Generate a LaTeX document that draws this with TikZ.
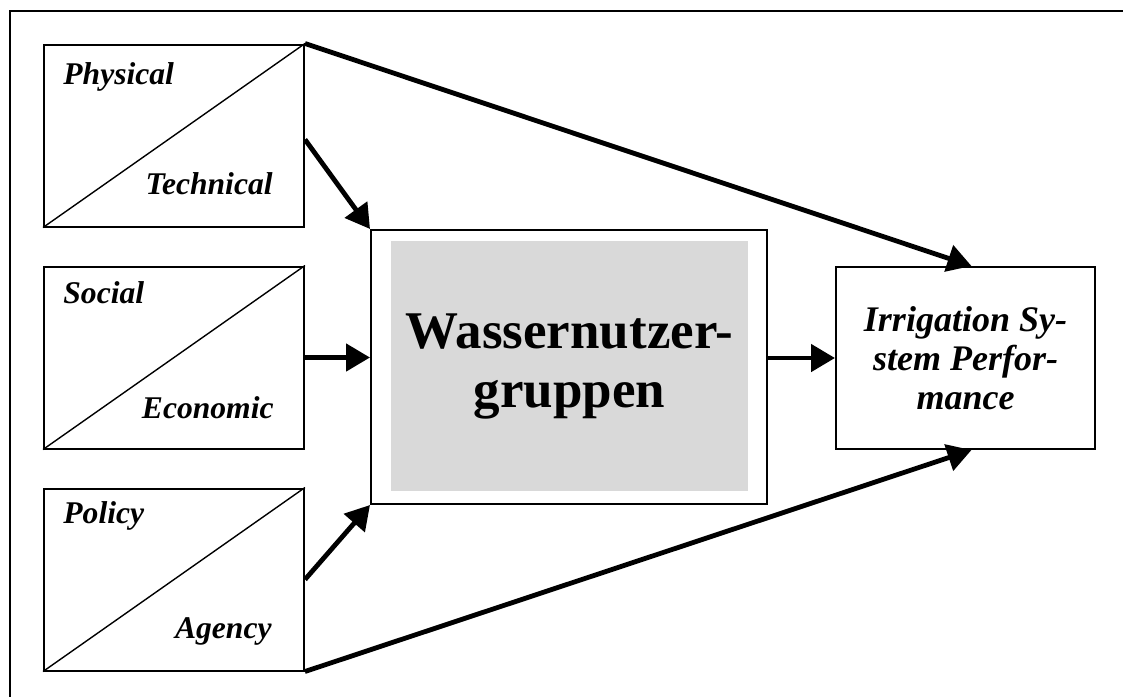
\documentclass[tikz,border=0pt]{standalone}
\usepackage{fontspec}
\setmainfont{Liberation Serif}
\usepackage{tikz}
\usetikzlibrary{arrows.meta, positioning}

\begin{document}
\begin{tikzpicture}[
  x=0.5pt, y=-0.5pt,
  fbox/.style={draw, line width=1pt, minimum width=130pt,
               minimum height=91pt, inner sep=0pt},
  lbl/.style={font=\fontsize{15.8}{19}\selectfont\bfseries\itshape,
              inner sep=0pt},
  diag/.style={line width=0.7pt},
  arr/.style={-{Triangle[length=12pt, width=13.5pt]}, line width=2.4pt},
  node distance=19pt
]
  \useasboundingbox (0,0) rectangle (1123,697);

  % - Rahmen -
  \draw[line width=1pt] (1123,11) -- (10,11) -- (10,697);

  % - Faktoren links -
  \node[fbox] (phys) at (174,135.5) {};
  \node[fbox, below=of phys] (soc) {};
  \node[fbox, below=of soc]  (pol) {};

  \draw[diag] (phys.south west) -- (phys.north east);
  \draw[diag] (soc.south west)  -- (soc.north east);
  \draw[diag] (pol.south west)  -- (pol.north east);

  \node[lbl, anchor=base west] (physA) at ([xshift=10pt, yshift=-20.5pt]phys.north west) {Physical};
  \node[lbl, anchor=base east] (physB) at ([xshift=-16pt, yshift=16.5pt]phys.south east) {Technical};
  \node[lbl, anchor=base west] (socA)  at ([xshift=10pt, yshift=-19pt]soc.north west) {Social};
  \node[lbl, anchor=base east] (socB)  at ([xshift=-15.5pt, yshift=15.5pt]soc.south east) {Economic};
  \node[lbl, anchor=base west] (polA)  at ([xshift=10pt, yshift=-18pt]pol.north west) {Policy};
  \node[lbl, anchor=base east] (polB)  at ([xshift=-16.5pt, yshift=16.5pt]pol.south east) {Agency};

  % - Wassernutzergruppen -
  \node[draw, line width=1pt, minimum width=198pt, minimum height=137pt]
       (wug) at (569,367) {};
  \node[fill=black!15, minimum width=178.5pt, minimum height=125pt,
        align=center, font=\fontsize{26.5}{29.5}\selectfont\bfseries]
       (wugtext) at (569.5,366) {Wassernutzer-\\gruppen};

  % - Ergebnis -
  \node[draw, line width=1pt, minimum width=129.5pt, minimum height=91pt,
        align=center, font=\fontsize{18}{19.5}\selectfont\bfseries\itshape]
       (irr) at (965.5,358) {Irrigation Sy-\\stem Perfor-\\mance};

  % - Pfeile -
  \draw[arr] (phys.north east) -- ([xshift=3pt]irr.north);
  \draw[arr] ([yshift=-2pt]phys.east) -- (wug.north west);
  \draw[arr] (soc.east) -- (soc.east -| wug.west);
  \draw[arr] (wug.east |- irr.west) -- (irr.west);
  \draw[arr] (pol.east) -- (wug.south west);
  \draw[arr] (pol.south east) -- ([xshift=3pt]irr.south);
\end{tikzpicture}
\end{document}
